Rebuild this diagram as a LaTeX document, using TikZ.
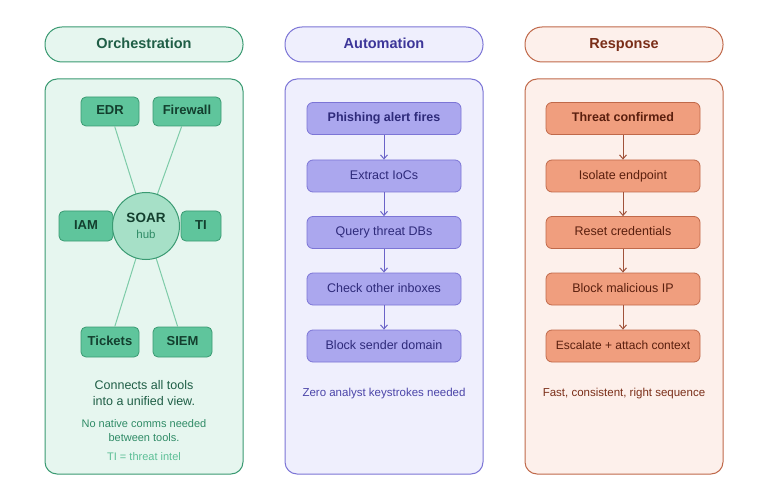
\documentclass[tikz,border=0pt]{standalone}
\usepackage{fontspec}
\setmainfont{Liberation Sans}
\usetikzlibrary{arrows.meta}
\definecolor{gPanel}{HTML}{E6F6EF}
\definecolor{gBorder}{HTML}{3A9A72}
\definecolor{gHead}{HTML}{1F5E46}
\definecolor{gBox}{HTML}{5FC59C}
\definecolor{gHub}{HTML}{A6E0C7}
\definecolor{gText}{HTML}{133F2E}
\definecolor{gLine}{HTML}{7DCBA8}
\definecolor{gMid}{HTML}{2F8B66}
\definecolor{gLight}{HTML}{5CBF96}
\definecolor{pPanel}{HTML}{EFEFFD}
\definecolor{pBorder}{HTML}{7C75D6}
\definecolor{pHead}{HTML}{3D3699}
\definecolor{pBox}{HTML}{ABA7EE}
\definecolor{pText}{HTML}{2E2A7A}
\definecolor{pArrow}{HTML}{6A63C8}
\definecolor{pFoot}{HTML}{4A44A8}
\definecolor{oPanel}{HTML}{FDF0EB}
\definecolor{oBorder}{HTML}{C0694A}
\definecolor{oHead}{HTML}{7A2E18}
\definecolor{oBox}{HTML}{F09E7E}
\definecolor{oText}{HTML}{5A1F0E}
\definecolor{oArrow}{HTML}{A0523A}
\begin{document}
\begin{tikzpicture}[x=1pt,y=-1pt,
  header/.style={draw, line width=1pt, rounded corners=17pt, minimum width=198pt, minimum height=35pt, inner sep=0pt, text height=10.5pt, text depth=3pt, font=\fontsize{14.5}{16}\selectfont\bfseries},
  panel/.style={draw, line width=1pt, rounded corners=12pt, minimum width=198pt, minimum height=395pt, inner sep=0pt},
  tool/.style={draw=gBorder, fill=gBox, line width=0.8pt, rounded corners=5pt, minimum height=29pt, inner sep=0pt, text height=9.5pt, text depth=2.5pt, text=gText, font=\fontsize{13}{15}\selectfont\bfseries},
  flowbox/.style={draw, line width=0.8pt, rounded corners=6pt, minimum width=154pt, minimum height=32pt, inner sep=0pt, text height=9pt, text depth=2.5pt, font=\fontsize{12.5}{15}\selectfont},
  parr/.style={draw=pArrow, line width=1pt, -{Straight Barb[length=4pt,width=7pt]}},
  oarr/.style={draw=oArrow, line width=1pt, -{Straight Barb[length=4pt,width=7pt]}},
  spoke/.style={draw=gLine, line width=1pt}
]
\useasboundingbox (0,0) rectangle (768,497);
\fill[white] (0,0) rectangle (768,497);

% headers
\node[header, draw=gBorder, fill=gPanel, text=gHead] (h1) at (144,44.5) {Orchestration};
\node[header, draw=pBorder, fill=pPanel, text=pHead] (h2) at (384,44.5) {Automation};
\node[header, draw=oBorder, fill=oPanel, text=oHead] (h3) at (624,44.5) {Response};

% panels
\node[panel, draw=gBorder, fill=gPanel] (p1) at (144,276.5) {};
\node[panel, draw=pBorder, fill=pPanel] (p2) at (384,276.5) {};
\node[panel, draw=oBorder, fill=oPanel] (p3) at (624,276.5) {};

% orchestration
\node[tool, minimum width=58pt] (edr) at (110,111.5) {EDR};
\node[tool, minimum width=68pt] (fw) at (187,111.5) {Firewall};
\node[tool, minimum width=54pt, minimum height=30pt] (iam) at (86,226) {IAM};
\node[tool, minimum width=40pt, minimum height=30pt] (ti) at (201,226) {TI};
\node[tool, minimum width=58pt, minimum height=30pt] (tix) at (110,342) {Tickets};
\node[tool, minimum width=59pt, minimum height=30pt] (siem) at (182.5,342) {SIEM};
\coordinate (hubc) at (146,226);
\draw[spoke] (hubc) -- (edr);
\draw[spoke] (hubc) -- (fw);
\draw[spoke] (hubc) -- (tix);
\draw[spoke] (hubc) -- (siem);
\node[circle, draw=gBorder, fill=gHub, line width=1pt, minimum size=67pt, inner sep=0pt] (hub) at (hubc) {};
\node[text=gText, font=\fontsize{13.5}{15}\selectfont\bfseries] (soar) at (146,218) {SOAR};
\node[text=gMid, font=\fontsize{11.5}{13}\selectfont] (hubt) at (146,234.5) {hub};

\node[text=gHead, font=\fontsize{12.5}{15}\selectfont, align=center] (t1) at (144,393.5) {Connects all tools\\[1pt]into a unified view.};
\node[text=gMid, font=\fontsize{11}{13}\selectfont, align=center] (t2) at (144,430.5) {No native comms needed\\[1pt]between tools.};
\node[text=gLight, font=\fontsize{11}{13}\selectfont] (t3) at (144,457) {TI = threat intel};

% automation
\node[flowbox, draw=pBorder, fill=pBox, text=pText, font=\fontsize{12.5}{15}\selectfont\bfseries] (a1) at (384,118.5) {Phishing alert fires};
\node[flowbox, draw=pBorder, fill=pBox, text=pText] (a2) at (384,176) {Extract IoCs};
\node[flowbox, draw=pBorder, fill=pBox, text=pText] (a3) at (384,232.5) {Query threat DBs};
\node[flowbox, draw=pBorder, fill=pBox, text=pText] (a4) at (384,289) {Check other inboxes};
\node[flowbox, draw=pBorder, fill=pBox, text=pText] (a5) at (384,346) {Block sender domain};
\draw[parr] (a1) -- (a2);
\draw[parr] (a2) -- (a3);
\draw[parr] (a3) -- (a4);
\draw[parr] (a4) -- (a5);
\node[text=pFoot, font=\fontsize{11.5}{13}\selectfont, text height=8.5pt, text depth=2.5pt] (af) at (384,393.5) {Zero analyst keystrokes needed};

% response
\node[flowbox, draw=oBorder, fill=oBox, text=oText, font=\fontsize{12.5}{15}\selectfont\bfseries] (r1) at (623,118.5) {Threat confirmed};
\node[flowbox, draw=oBorder, fill=oBox, text=oText] (r2) at (623,176) {Isolate endpoint};
\node[flowbox, draw=oBorder, fill=oBox, text=oText] (r3) at (623,232.5) {Reset credentials};
\node[flowbox, draw=oBorder, fill=oBox, text=oText] (r4) at (623,289) {Block malicious IP};
\node[flowbox, draw=oBorder, fill=oBox, text=oText, font=\fontsize{12}{15}\selectfont] (r5) at (623,346) {Escalate + attach context};
\draw[oarr] (r1) -- (r2);
\draw[oarr] (r2) -- (r3);
\draw[oarr] (r3) -- (r4);
\draw[oarr] (r4) -- (r5);
\node[text=oHead, font=\fontsize{11.5}{13}\selectfont, text height=8.5pt, text depth=2.5pt] (rf) at (624,393.5) {Fast, consistent, right sequence};
\end{tikzpicture}
\end{document}
